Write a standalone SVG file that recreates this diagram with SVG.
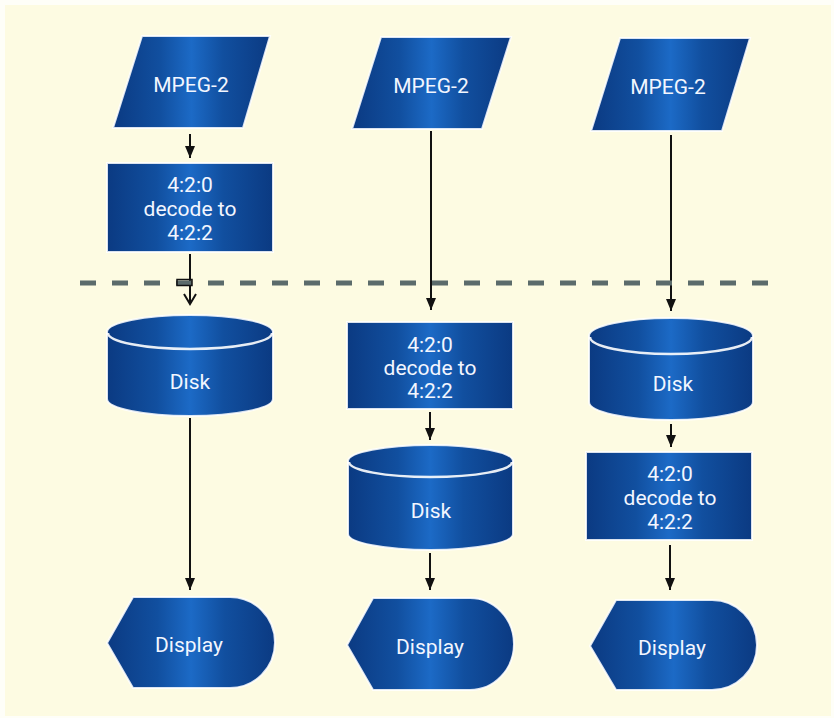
<svg xmlns="http://www.w3.org/2000/svg" width="834" height="718" viewBox="0 0 834 718">
<defs>
<linearGradient id="blue" x1="0" y1="0" x2="1" y2="0">
<stop offset="0" stop-color="#0b3a82"/>
<stop offset="0.3" stop-color="#114f9f"/>
<stop offset="0.5" stop-color="#1c6ac6"/>
<stop offset="0.7" stop-color="#114f9f"/>
<stop offset="1" stop-color="#0b3a82"/>
</linearGradient>
<marker id="ah" viewBox="0 0 12 10" refX="12" refY="5" markerWidth="6" markerHeight="5" orient="auto" markerUnits="strokeWidth">
<path d="M0,0 L12,5 L0,10 Z" fill="#111"/>
</marker>
<style>
.sh{fill:url(#blue);stroke:#ffffff;stroke-width:2;stroke-opacity:0.85}
.cap{fill:none;stroke:#ffffff;stroke-width:2.5;stroke-opacity:0.9}
.t{font-family:Roboto,"Liberation Sans",sans-serif;font-size:21px;fill:#f2f6ff;text-anchor:middle}
.c{stroke:#111;stroke-width:2;fill:none}
.ca{stroke:#111;stroke-width:2;fill:none;marker-end:url(#ah)}
</style>
</defs>
<rect x="0" y="0" width="834" height="718" fill="#fefef8"/>
<rect x="5" y="5" width="826" height="711" fill="#fdfbe2"/>

<g id="connectors">
<line class="ca" x1="190" y1="134" x2="190" y2="158"/>
<line class="c" x1="190" y1="254" x2="190" y2="304"/>
<path class="c" d="M184,294 L190,304 L196,294" stroke-width="1.8"/>
<line class="ca" x1="190" y1="418" x2="190" y2="590"/>
<line class="ca" x1="431" y1="131" x2="431" y2="310"/>
<line class="ca" x1="430" y1="412" x2="430" y2="440"/>
<line class="ca" x1="430" y1="553" x2="430" y2="590"/>
<line class="ca" x1="671" y1="135" x2="671" y2="311"/>
<line class="ca" x1="671" y1="424" x2="671" y2="447"/>
<line class="ca" x1="670" y1="545" x2="670" y2="590"/>
</g>

<g id="separator">
<line x1="80" y1="283" x2="772" y2="283" stroke="#5b6b6b" stroke-width="5" stroke-dasharray="16 16"/>
<rect x="177" y="279.5" width="15" height="6" fill="none" stroke="#111" stroke-width="1.5"/>
</g>

<g id="mpeg1">
<path class="sh" d="M142,36 L270,36 L243,128 L113,128 Z"/>
<text class="t" x="191" y="92">MPEG-2</text>
</g>
<g id="mpeg2">
<path class="sh" d="M381,37 L511,37 L482,129 L352,129 Z"/>
<text class="t" x="431" y="93">MPEG-2</text>
</g>
<g id="mpeg3">
<path class="sh" d="M620,38 L750,38 L722,131 L591,131 Z"/>
<text class="t" x="668" y="94">MPEG-2</text>
</g>

<g id="decode1">
<rect class="sh" x="107" y="163" width="166" height="89"/>
<text class="t" x="190" y="192">4:2:0</text>
<text class="t" x="190" y="216">decode to</text>
<text class="t" x="190" y="240">4:2:2</text>
</g>
<g id="decode2">
<rect class="sh" x="347" y="322" width="166" height="87"/>
<text class="t" x="430" y="352">4:2:0</text>
<text class="t" x="430" y="375">decode to</text>
<text class="t" x="430" y="398">4:2:2</text>
</g>
<g id="decode3">
<rect class="sh" x="586" y="452" width="166" height="88"/>
<text class="t" x="670" y="481">4:2:0</text>
<text class="t" x="670" y="505">decode to</text>
<text class="t" x="670" y="529">4:2:2</text>
</g>

<g id="disk1">
<path class="sh" d="M107,332 A83,17 0 0 1 273,332 L273,399 A83,17 0 0 1 107,399 Z"/>
<path class="cap" d="M108,333 A82,16 0 0 0 272,333"/>
<text class="t" x="190" y="389">Disk</text>
</g>
<g id="disk2">
<path class="sh" d="M348,461 A82.5,16 0 0 1 513,461 L513,534 A82.5,16 0 0 1 348,534 Z"/>
<path class="cap" d="M349,462 A81.5,15 0 0 0 512,462"/>
<text class="t" x="431" y="518">Disk</text>
</g>
<g id="disk3">
<path class="sh" d="M589,336 A82,18 0 0 1 753,336 L753,402 A82,18 0 0 1 589,402 Z"/>
<path class="cap" d="M590,337 A81,17 0 0 0 752,337"/>
<text class="t" x="673" y="391">Disk</text>
</g>

<g id="display1">
<path class="sh" d="M107,643 L133,597 L230,597 A45,45.5 0 0 1 230,688 L133,688 Z"/>
<text class="t" x="189" y="652">Display</text>
</g>
<g id="display2">
<path class="sh" d="M347,645 L373,598 L470,598 A44,46 0 0 1 470,690 L373,690 Z"/>
<text class="t" x="430" y="654">Display</text>
</g>
<g id="display3">
<path class="sh" d="M590,646 L616,600 L712,600 A45,45 0 0 1 712,690 L616,690 Z"/>
<text class="t" x="672" y="655">Display</text>
</g>
</svg>
